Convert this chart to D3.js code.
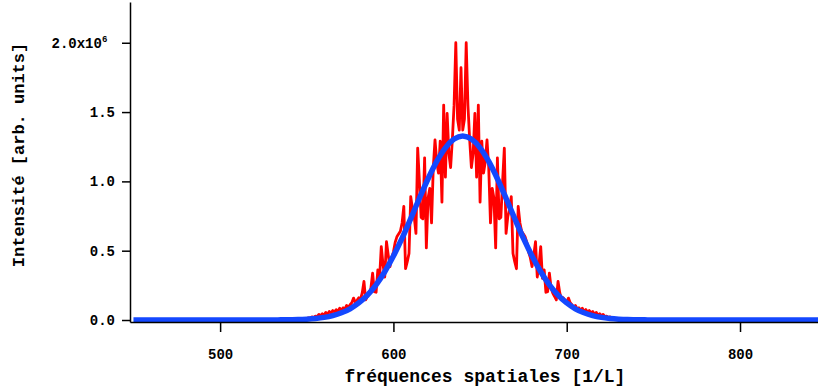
<!DOCTYPE html>
<html>
<head>
<meta charset="utf-8">
<script src="https://cdn.jsdelivr.net/npm/d3@7"></script>
<style>
  html, body { margin: 0; padding: 0; background: #fff; }
  svg { display: block; }
  text { font-family: "Liberation Mono", "DejaVu Sans Mono", monospace; font-weight: bold; fill: #000; }
</style>
</head>
<body>
<svg id="chart" width="818" height="392"></svg>
<script>
// ---------- data ----------
// measured intensity (units of 1e6), one sample per spatial frequency from 540 to 738
const redStart = 540;
const redValues = [
  0.003,0.004,0.003,0.005,0.004,0.006,0.005,0.008,0.006,0.012,
  0.009,0.016,0.012,0.022,0.018,0.028,0.024,0.040,0.030,0.045,
  0.036,0.055,0.042,0.062,0.050,0.068,0.058,0.075,0.062,0.085,
  0.072,0.088,0.080,0.105,0.092,0.110,0.125,0.158,0.128,0.142,
  0.160,0.150,0.195,0.278,0.145,0.170,0.192,0.230,0.338,0.205,
  0.200,0.362,0.300,0.530,0.400,0.310,0.565,0.470,0.385,0.450,
  0.490,0.560,0.600,0.620,0.640,0.700,0.820,0.370,0.420,0.480,
  0.890,0.800,0.745,0.625,1.240,1.000,0.740,0.730,1.170,0.520,
  0.880,0.950,0.700,1.100,1.300,1.140,1.060,1.290,0.850,1.550,
  1.030,1.490,1.200,1.100,1.300,1.550,2.000,1.450,1.370,1.820,
  1.370,1.450,2.000,1.550,1.300,1.100,1.200,1.490,1.030,1.550,
  0.850,1.290,1.060,1.140,1.300,1.100,0.700,0.950,0.880,0.520,
  1.170,0.730,0.740,1.000,1.240,0.625,0.745,0.800,0.890,0.480,
  0.420,0.370,0.820,0.700,0.640,0.620,0.600,0.560,0.490,0.450,
  0.385,0.470,0.565,0.310,0.400,0.530,0.300,0.362,0.200,0.205,
  0.338,0.230,0.192,0.170,0.145,0.278,0.195,0.150,0.160,0.142,
  0.128,0.158,0.125,0.110,0.092,0.105,0.080,0.088,0.072,0.085,
  0.062,0.075,0.058,0.068,0.050,0.062,0.042,0.055,0.036,0.045,
  0.030,0.040,0.024,0.028,0.018,0.022,0.012,0.016,0.009,0.012,
  0.006,0.008,0.005,0.006,0.004,0.005,0.003,0.004,0.003
];
// fitted curve (units of 1e6), sampled every 5 from 450 to 845
const blueStart = 450;
const blueStep = 5;
const blueValues = [
  0,0,0,0,0,0,0,0,0,0,0,0,0,0,0,0,0,
  0.001,0.002,0.003,0.006,0.011,0.019,0.032,0.052,0.081,0.123,0.180,
  0.254,0.348,0.461,0.590,0.732,0.878,1.019,1.144,1.242,1.305,1.327,
  1.305,1.242,1.144,1.019,0.878,0.732,0.590,0.461,0.348,0.254,0.180,
  0.123,0.081,0.052,0.032,0.019,0.011,0.006,0.003,0.002,0.001,
  0,0,0,0,0,0,0,0,0,0,0,0,0,0,0,0,0,0,0,0
];
const xTicks = [500, 600, 700, 800];
const yTicks = [0, 0.5, 1.0, 1.5, 2.0];
const yTickLabels = ["0.0", "0.5", "1.0", "1.5", "2.0x10"];
const xTitle = "fréquences spatiales [1/L]";
const yTitle = "Intensité [arb. units]";

// ---------- layout ----------
const svg = d3.select("#chart");
const mLeft = 130, mRight = 818, mTop = 2, mBottom = 322;
const x = d3.scaleLinear().domain([448, 845]).range([mLeft, mRight]);
const y = d3.scaleLinear().domain([-0.0144, 2.294]).range([mBottom, mTop]);

const redData = redValues.map((v, i) => ({ f: redStart + i, v }));
const blueData = blueValues.map((v, i) => ({ f: blueStart + i * blueStep, v }));

const plot = svg.append("g");
plot.append("path")
  .datum(redData)
  .attr("fill", "none")
  .attr("stroke", "#ff0000")
  .attr("stroke-width", 2.8)
  .attr("stroke-linejoin", "round")
  .attr("d", d3.line().x(d => x(d.f)).y(d => y(d.v)));

plot.append("path")
  .datum(blueData)
  .attr("fill", "none")
  .attr("stroke", "#1448ff")
  .attr("stroke-width", 5.5)
  .attr("stroke-linejoin", "round")
  .attr("d", d3.line().curve(d3.curveMonotoneX).x(d => x(d.f)).y(d => y(d.v)));

// x axis
const xAxis = svg.append("g")
  .attr("transform", `translate(0,${mBottom})`)
  .call(d3.axisBottom(x).tickValues(xTicks).tickSize(10).tickPadding(17).tickSizeOuter(0).tickFormat(d3.format("d")));
xAxis.select(".domain").attr("stroke-width", 1.5);
xAxis.selectAll(".tick line").attr("stroke-width", 1.5);
xAxis.selectAll(".tick text").style("font-size", "14px").style("font-family", "Liberation Mono").style("font-weight", "bold");

// y axis
const yAxis = svg.append("g")
  .attr("transform", `translate(${mLeft},0)`)
  .call(d3.axisLeft(y).tickValues(yTicks).tickSize(8).tickPadding(7).tickSizeOuter(0)
    .tickFormat((d, i) => yTickLabels[i]));
yAxis.select(".domain").attr("stroke-width", 1.5);
yAxis.selectAll(".tick line").attr("stroke-width", 1.5);
yAxis.selectAll(".tick text").style("font-size", "14px").style("font-family", "Liberation Mono").style("font-weight", "bold");
// exponent on the top tick
yAxis.selectAll(".tick text").filter((d, i) => i === yTicks.length - 1)
  .each(function() {
    const t = d3.select(this);
    t.attr("dx", "-0.55em");
    t.append("tspan").attr("dy", "-0.6em").style("font-size", "9px").text("6");
  });

// titles
svg.append("text")
  .attr("x", 485)
  .attr("y", 382)
  .attr("text-anchor", "middle")
  .style("font-size", "18px")
  .text(xTitle);

svg.append("text")
  .attr("transform", `translate(24,${155}) rotate(-90)`)
  .attr("text-anchor", "middle")
  .style("font-size", "17px")
  .text(yTitle);
</script>
</body>
</html>
